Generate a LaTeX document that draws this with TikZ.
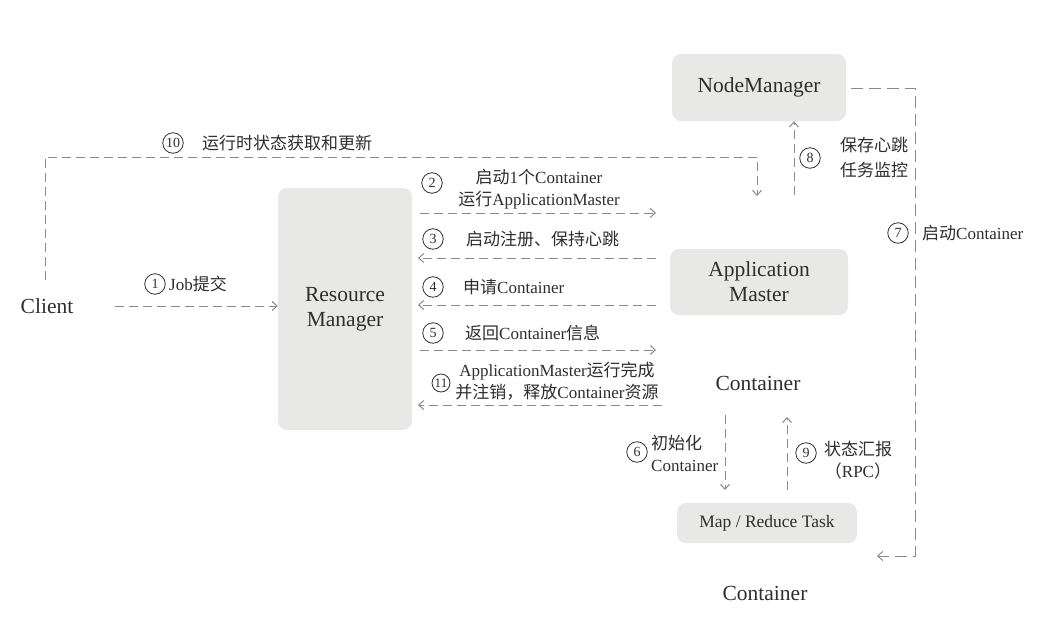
\documentclass[tikz,border=0pt]{standalone}
\usepackage{fontspec}
\setmainfont{Liberation Serif}
\newfontfamily\cjk{Noto Sans CJK SC}
\newcommand\zhs[1]{{\cjk #1}}
\usetikzlibrary{arrows.meta}
\definecolor{boxgray}{HTML}{E8E8E6}
\definecolor{txt}{HTML}{2E2E2E}
\definecolor{lgray}{HTML}{8A8A8A}
\tikzset{
  box/.style={fill=boxgray, rounded corners=9pt, draw=none, text=txt, align=center,
    font=\fontsize{21.5}{25}\selectfont},
  plain/.style={text=txt, font=\fontsize{21.5}{25}\selectfont},
  lbl/.style={text=txt, inner sep=0pt, font=\fontsize{17}{22}\selectfont},
  num/.style={circle, draw=txt, line width=0.8pt, minimum size=20.5pt, inner sep=0pt,
    text=txt, font=\fontsize{14}{14}\selectfont},
  dline/.style={draw=lgray, dash pattern=on 9pt off 5pt, line width=1pt},
  arr/.style={dline, -{Straight Barb[length=5pt,width=9pt]}}
}
\begin{document}
\begin{tikzpicture}[x=1pt,y=-1pt]
\useasboundingbox[fill=white] (0,0) rectangle (1041,624);

% main nodes
\node[plain] (client) at (47,306) {Client};
\node[box, minimum width=134pt, minimum height=242pt] (rm) at (345,309) {Resource\\Manager};
\node[box, minimum width=174pt, minimum height=67pt] (nm) at (759,87.5) {NodeManager};
\node[box, minimum width=178pt, minimum height=66pt] (am) at (759,282) {Application\\Master};
\node[plain] (cont1) at (758,383) {Container};
\node[box, minimum width=180pt, minimum height=40pt, font=\fontsize{17.5}{20}\selectfont] (mr) at (767,523) {Map / Reduce Task};
\node[plain] (cont2) at (765,593) {Container};

% free-end coordinates
\coordinate (s1) at (115,306);
\coordinate (s10) at (45,280);
\coordinate (t10) at (757,157);
\coordinate (e10) at (757,196);
\coordinate (s2) at (420,213);  \coordinate (e2) at (656,213);
\coordinate (s3) at (656,258);  \coordinate (e3) at (418,258);
\coordinate (s4) at (656,305);  \coordinate (e4) at (418,305);
\coordinate (s5) at (420,350);  \coordinate (e5) at (656,350);
\coordinate (s11) at (662,405); \coordinate (e11) at (418,405);
\coordinate (s7) at (851,88);
\coordinate (k7) at (915,556);
\coordinate (e7) at (877,556);
\coordinate (s8) at (794,195);
\coordinate (s6) at (725,415);  \coordinate (e6) at (725,490);
\coordinate (s9) at (787,490);  \coordinate (e9) at (787,417);

% connectors
\draw[arr] (s1) -- (rm.west |- s1);
\draw[arr] (s10) |- (t10) -- (e10);
\draw[arr] (s2) -- (e2);
\draw[arr] (s3) -- (e3);
\draw[arr] (s4) -- (e4);
\draw[arr] (s5) -- (e5);
\draw[arr] (s11) -- (e11);
\draw[arr, dash pattern=on 12pt off 6pt] (s7) -| (k7) -- (e7);
\draw[arr] (s8) -- (s8 |- nm.south);
\draw[arr] (s6) -- (e6);
\draw[arr] (s9) -- (e9);

% labels
\node[num] (c1) at (155,284) {1};
\node[lbl, anchor=west] (l1) at (169,284) {Job\zhs{提交}};
\node[num] (c10) at (173,143) {10};
\node[lbl, anchor=west] (l10) at (202,143) {\zhs{运行时状态获取和更新}};
\node[num] (c2) at (432,183) {2};
\node[lbl, align=center] (l2) at (539,189) {\zhs{启动}1\zhs{个}Container\\\zhs{运行}ApplicationMaster};
\node[num] (c3) at (433,239) {3};
\node[lbl, anchor=west] (l3) at (466,239) {\zhs{启动注册、保持心跳}};
\node[num] (c4) at (433,287) {4};
\node[lbl, anchor=west] (l4) at (463,287) {\zhs{申请}Container};
\node[num] (c5) at (433,333) {5};
\node[lbl, anchor=west] (l5) at (465,333) {\zhs{返回}Container\zhs{信息}};
\node[num, minimum size=18pt, font=\fontsize{13}{13}\selectfont] (c11) at (441,383) {11};
\node[lbl, align=center] (l11) at (557,381) {ApplicationMaster\zhs{运行完成}\\\zhs{并注销，释放}Container\zhs{资源}};
\node[num] (c6) at (637,452) {6};
\node[lbl, anchor=west, align=left] (l6) at (651,453) {\zhs{初始化}\\Container};
\node[num] (c7) at (898,233) {7};
\node[lbl, anchor=west] (l7) at (922,233) {\zhs{启动}Container};
\node[num] (c8) at (810,158) {8};
\node[lbl, anchor=west, align=left, font=\fontsize{17}{25}\selectfont] (l8) at (840,158) {\zhs{保存心跳}\\\zhs{任务监控}};
\node[num] (c9) at (806,453) {9};
\node[lbl, align=center] (l9) at (858,460) {\zhs{状态汇报}\\\zhs{（}RPC\zhs{）}};
\end{tikzpicture}
\end{document}
